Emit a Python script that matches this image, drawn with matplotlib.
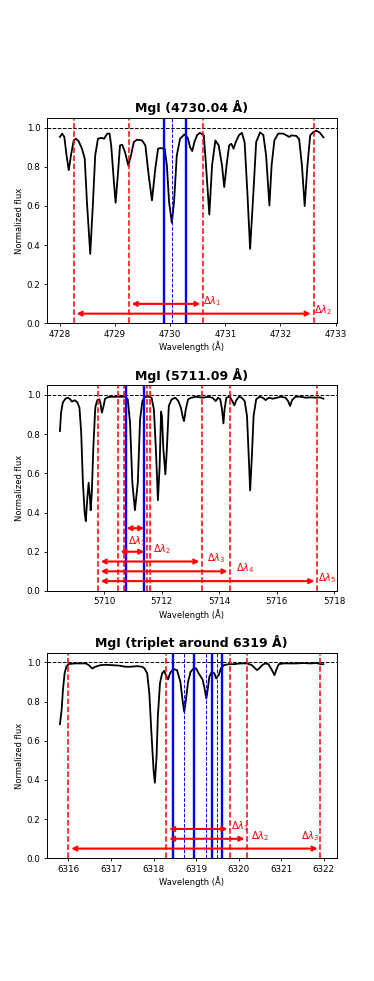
import matplotlib
matplotlib.use("Agg")
import matplotlib.pyplot as plt

# ---- panel 1: MgI 4730.04
wl1 = [4728.00, 4728.04, 4728.08, 4728.12, 4728.16, 4728.20, 4728.25, 4728.29, 4728.34,
       4728.40, 4728.45, 4728.49, 4728.55, 4728.60, 4728.64, 4728.69, 4728.75, 4728.80,
       4728.86, 4728.90, 4728.93, 4728.98, 4729.01, 4729.05, 4729.09, 4729.13, 4729.18,
       4729.24, 4729.29, 4729.34, 4729.40, 4729.49, 4729.55, 4729.61, 4729.67, 4729.73,
       4729.78, 4729.82, 4729.90, 4729.94, 4729.98, 4730.03, 4730.07, 4730.12, 4730.18,
       4730.26, 4730.32, 4730.36, 4730.40, 4730.44, 4730.49, 4730.54, 4730.61, 4730.65,
       4730.71, 4730.76, 4730.82, 4730.88, 4730.94, 4730.98, 4731.03, 4731.07, 4731.11,
       4731.15, 4731.19, 4731.25, 4731.30, 4731.35, 4731.40, 4731.45, 4731.51, 4731.56,
       4731.63, 4731.69, 4731.74, 4731.80, 4731.84, 4731.89, 4731.96, 4732.05, 4732.11,
       4732.16, 4732.20, 4732.29, 4732.34, 4732.39, 4732.44, 4732.49, 4732.54, 4732.59,
       4732.65, 4732.71, 4732.78]
fx1 = [0.952, 0.969, 0.952, 0.858, 0.782, 0.858, 0.934, 0.943, 0.930,
       0.892, 0.841, 0.620, 0.355, 0.620, 0.858, 0.943, 0.947, 0.943,
       0.969, 0.969, 0.909, 0.720, 0.616, 0.756, 0.909, 0.912, 0.875,
       0.807, 0.858, 0.926, 0.938, 0.934, 0.909, 0.756, 0.628, 0.790,
       0.892, 0.895, 0.892, 0.807, 0.620, 0.514, 0.620, 0.858, 0.943,
       0.965, 0.947, 0.900, 0.880, 0.926, 0.962, 0.973, 0.960, 0.807,
       0.556, 0.807, 0.934, 0.909, 0.807, 0.696, 0.824, 0.909, 0.917,
       0.892, 0.926, 0.962, 0.973, 0.926, 0.670, 0.381, 0.670, 0.926,
       0.975, 0.962, 0.858, 0.602, 0.807, 0.934, 0.969, 0.969, 0.960,
       0.952, 0.960, 0.957, 0.940, 0.807, 0.599, 0.807, 0.960, 0.975,
       0.984, 0.975, 0.950]
red1 = [4728.25, 4729.25, 4730.60, 4732.60]
blue1 = [4729.88, 4730.28]
center1 = [4730.03]
arr1 = [(4729.25, 4730.60, 0.10), (4728.25, 4732.60, 0.05)]
lab1 = [(4730.60, 0.10, r"$\Delta\lambda_1$", "left"),
        (4732.60, 0.05, r"$\Delta\lambda_2$", "left")]

# ---- panel 2: MgI 5711.09
wl2 = [5708.46, 5708.50, 5708.56, 5708.65, 5708.74, 5708.82, 5708.88, 5708.97, 5709.06,
       5709.14, 5709.20, 5709.26, 5709.32, 5709.36, 5709.41, 5709.46, 5709.50, 5709.53,
       5709.57, 5709.62, 5709.69, 5709.76, 5709.83, 5709.87, 5709.92, 5709.98, 5710.03,
       5710.15, 5710.38, 5710.73, 5710.82, 5710.90, 5710.98, 5711.07, 5711.17, 5711.25,
       5711.33, 5711.42, 5711.56, 5711.65, 5711.73, 5711.80, 5711.87, 5711.93, 5711.98,
       5712.01, 5712.06, 5712.13, 5712.18, 5712.25, 5712.35, 5712.48, 5712.58, 5712.67,
       5712.74, 5712.78, 5712.84, 5712.92, 5713.03, 5713.21, 5713.44, 5713.62, 5713.77,
       5713.88, 5713.96, 5714.04, 5714.10, 5714.15, 5714.19, 5714.25, 5714.37, 5714.46,
       5714.53, 5714.60, 5714.69, 5714.79, 5714.89, 5714.97, 5715.03, 5715.08, 5715.14,
       5715.20, 5715.29, 5715.41, 5715.52, 5715.62, 5715.73, 5715.87, 5716.01, 5716.16,
       5716.31, 5716.40, 5716.47, 5716.54, 5716.66, 5716.85, 5717.02, 5717.20, 5717.37,
       5717.51, 5717.63]
fx2 = [0.816, 0.910, 0.961, 0.981, 0.986, 0.978, 0.966, 0.973, 0.964,
       0.935, 0.808, 0.552, 0.399, 0.356, 0.467, 0.552, 0.484, 0.412,
       0.501, 0.722, 0.935, 0.974, 0.978, 0.957, 0.910, 0.944, 0.981,
       0.990, 0.991, 0.991, 0.978, 0.859, 0.552, 0.412, 0.552, 0.876,
       0.969, 0.990, 0.991, 0.986, 0.927, 0.722, 0.463, 0.637, 0.915,
       0.893, 0.722, 0.595, 0.722, 0.944, 0.978, 0.986, 0.969, 0.935,
       0.884, 0.867, 0.927, 0.978, 0.986, 0.991, 0.986, 0.991, 0.986,
       0.969, 0.986, 0.978, 0.927, 0.855, 0.927, 0.986, 0.991, 0.969,
       0.947, 0.974, 0.991, 0.986, 0.969, 0.893, 0.688, 0.513, 0.688,
       0.893, 0.978, 0.991, 0.986, 0.974, 0.986, 0.981, 0.986, 0.991,
       0.986, 0.969, 0.944, 0.974, 0.991, 0.991, 0.986, 0.988, 0.986,
       0.988, 0.981]
red2 = [5709.78, 5710.47, 5710.68, 5711.49, 5711.61, 5713.41, 5714.39, 5717.41]
blue2 = [5710.77, 5711.39]
center2 = []
arr2 = [(5710.68, 5711.49, 0.32), (5710.47, 5711.49, 0.20), (5709.78, 5713.41, 0.15),
        (5709.78, 5714.39, 0.10), (5709.78, 5717.41, 0.05)]
lab2 = [(5710.82, 0.24, r"$\Delta\lambda_1$", "left"),
        (5711.71, 0.20, r"$\Delta\lambda_2$", "left"),
        (5713.58, 0.15, r"$\Delta\lambda_3$", "left"),
        (5714.60, 0.10, r"$\Delta\lambda_4$", "left"),
        (5717.43, 0.05, r"$\Delta\lambda_5$", "left")]

# ---- panel 3: MgI triplet around 6319
wl3 = [6315.80, 6315.84, 6315.87, 6315.91, 6315.95, 6316.01, 6316.16, 6316.32, 6316.41,
       6316.48, 6316.56, 6316.63, 6316.75, 6316.87, 6317.03, 6317.18, 6317.34, 6317.46,
       6317.61, 6317.73, 6317.79, 6317.85, 6317.90, 6317.95, 6318.00, 6318.03, 6318.07,
       6318.10, 6318.15, 6318.20, 6318.25, 6318.29, 6318.34, 6318.39, 6318.47, 6318.55,
       6318.63, 6318.68, 6318.72, 6318.76, 6318.81, 6318.87, 6318.94, 6319.00, 6319.06,
       6319.11, 6319.15, 6319.19, 6319.24, 6319.27, 6319.31, 6319.37, 6319.43, 6319.47,
       6319.53, 6319.58, 6319.65, 6319.76, 6319.88, 6320.04, 6320.19, 6320.31, 6320.39,
       6320.43, 6320.48, 6320.55, 6320.62, 6320.70, 6320.78, 6320.84, 6320.88, 6320.94,
       6321.05, 6321.21, 6321.37, 6321.52, 6321.68, 6321.84, 6321.92, 6321.99]
fx3 = [0.685, 0.757, 0.859, 0.944, 0.978, 0.992, 0.995, 0.995, 0.995,
       0.986, 0.969, 0.978, 0.986, 0.988, 0.986, 0.984, 0.978, 0.978,
       0.981, 0.978, 0.969, 0.944, 0.842, 0.638, 0.450, 0.386, 0.518,
       0.723, 0.893, 0.944, 0.957, 0.935, 0.913, 0.947, 0.966, 0.961,
       0.901, 0.808, 0.748, 0.808, 0.901, 0.952, 0.970, 0.969, 0.944,
       0.927, 0.913, 0.876, 0.816, 0.859, 0.927, 0.952, 0.944, 0.918,
       0.935, 0.969, 0.986, 0.991, 0.991, 0.995, 0.995, 0.986, 0.969,
       0.961, 0.969, 0.986, 0.995, 0.991, 0.961, 0.935, 0.961, 0.991,
       0.995, 0.995, 0.995, 0.997, 0.995, 0.997, 0.991, 0.991]
red3 = [6316.00, 6318.30, 6319.80, 6320.20, 6321.92]
blue3 = [6318.46, 6318.95, 6319.37, 6319.60]
center3 = [6318.72, 6319.24, 6319.49]
arr3 = [(6318.30, 6319.80, 0.15), (6318.30, 6320.20, 0.10), (6316.00, 6321.92, 0.05)]
lab3 = [(6319.82, 0.15, r"$\Delta\lambda_1$", "left"),
        (6320.30, 0.10, r"$\Delta\lambda_2$", "left"),
        (6321.88, 0.10, r"$\Delta\lambda_3$", "right")]

titles = ["MgI (4730.04 Å)", "MgI (5711.09 Å)", "MgI (triplet around 6319 Å)"]

panels = [
    (wl1, fx1, red1, blue1, center1, arr1, lab1),
    (wl2, fx2, red2, blue2, center2, arr2, lab2),
    (wl3, fx3, red3, blue3, center3, arr3, lab3),
]

fig, axes = plt.subplots(3, 1, figsize=(3.74, 9.81), dpi=100)
fig.subplots_adjust(left=0.125, right=0.9, top=0.88, bottom=0.125, hspace=0.3)

for ax, title, (wl, fx, red, blue, cen, arrs, labs) in zip(axes, titles, panels):
    ax.plot(wl, fx, color="black", lw=1.3)
    ax.axhline(1.0, color="black", ls="--", lw=0.7)
    for x in red:
        ax.axvline(x, color="red", ls="--", lw=1.1)
    for x in blue:
        ax.axvline(x, color="blue", lw=1.7)
    for x in cen:
        ax.axvline(x, color="blue", ls="--", lw=0.7)
    for x1, x2, y in arrs:
        ax.annotate("", xy=(x2, y), xytext=(x1, y),
                    arrowprops=dict(arrowstyle="<->", color="red", lw=1.5,
                                    mutation_scale=7))
    for x, y, s, ha in labs:
        ax.text(x, y, s, color="red", fontsize=7, ha=ha)
    ax.set_ylim(0, 1.05)
    ax.set_title(title, fontsize=9, fontweight="bold", pad=4)
    ax.set_xlabel("Wavelength (Å)", fontsize=6, labelpad=2)
    ax.set_ylabel("Normalized flux", fontsize=6, labelpad=2)
    ax.tick_params(labelsize=6.3, length=2.5, width=0.6, pad=2)
    for sp in ax.spines.values():
        sp.set_linewidth(0.7)

fig.savefig("out.png", dpi=100)
